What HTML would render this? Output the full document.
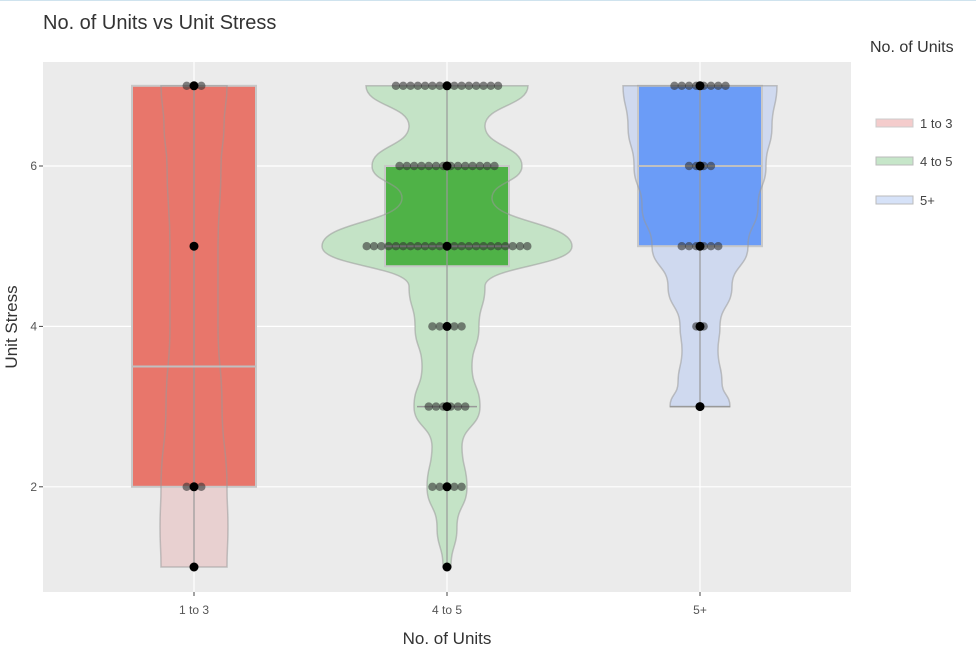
<!DOCTYPE html>
<html><head><meta charset="utf-8"><style>
html,body{margin:0;padding:0;background:#fff;}
svg{display:block;font-family:"Liberation Sans",sans-serif;}
</style></head><body>
<svg id="chart" width="976" height="650" viewBox="0 0 976 650">
<line x1="0" y1="0.5" x2="976" y2="0.5" stroke="#cfe3ee"/>
<text x="43" y="29" font-size="20" fill="#333">No. of Units vs Unit Stress</text>
<rect x="43" y="62" width="808" height="530" fill="#ebebeb"/>
<g id="grid"></g>
<g id="marks"></g>
<g id="axes"></g>
<text x="447" y="644" font-size="17" fill="#333" text-anchor="middle">No. of Units</text>
<text transform="translate(17,327) rotate(-90)" font-size="17" fill="#333" text-anchor="middle">Unit Stress</text>
<g>
<text x="870" y="52" font-size="16" fill="#333">No. of Units</text>
<g><rect x="876" y="119" width="37" height="8" fill="#f4cccc" stroke="#ccc"/><text x="920" y="128" font-size="13" fill="#444">1 to 3</text></g>
<g><rect x="876" y="157" width="37" height="8" fill="#c6e6c9" stroke="#bbb"/><text x="920" y="166" font-size="13" fill="#444">4 to 5</text></g>
<g><rect x="876" y="196" width="37" height="8" fill="#d6e2f8" stroke="#bbb"/><text x="920" y="205" font-size="13" fill="#444">5+</text></g>
</g>
</svg>
<script>
const categories=["1 to 3","4 to 5","5+"];
const yTicks=[2,4,6];
const q1=[2,4.75,5];
const medians=[3.5,5,6];
const q3=[7,6,7];
const whiskLo=[1,1,3];
const whiskHi=[7,7,7];
const levels=[1,2,3,4,5,6,7];
const dotCounts=[[1,3,0,0,1,0,3],[1,5,6,5,23,14,15],[0,0,1,2,6,4,8]];
const violinY=[[1,1.5,2,3,4,5,6,6.5,7],[1,1.5,2,2.5,3,3.5,4,4.5,5,5.6,6,6.5,7],[3,3.3,3.7,4,4.5,5,5.5,6,6.5,7]];
const violinW=[[33,34,33,28,24,24,27,30,33],[4,10,20,15,33,25,32,38,125,45,75,38,81],[30,22,18,20,32,48,58,66,72,77]];
const boxFill=["#e8766b","#4fb247","#6b9cf7"];
const vFill=["#e8d0d0","#c4e3c6","#cfd9ef"];
const ns="http://www.w3.org/2000/svg";
const X0=43,W=808,Y0=62,H=530;
function xs(i){return 194+i*253;}
function ys(v){return 567-(v-1)*80.2;}
function mk(tag,attrs,parent){const e=document.createElementNS(ns,tag);for(const k in attrs)e.setAttribute(k,attrs[k]);parent.appendChild(e);return e;}
const grid=document.getElementById('grid'),marks=document.getElementById('marks'),axes=document.getElementById('axes');
yTicks.forEach(t=>{
 const l=mk('line',{x1:X0,x2:X0+W,y1:ys(t),y2:ys(t),stroke:'#fff','stroke-width':1.2},grid);
 
 
 const tx=mk('text',{x:37,y:ys(t)+4,'font-size':12,fill:'#555','text-anchor':'end'},axes);
 tx.textContent=t;
 
 
 mk('line',{x1:39,x2:43,y1:ys(t),y2:ys(t),stroke:'#444'},axes);
});
categories.forEach((c,i)=>{
 const l=mk('line',{x1:xs(i),x2:xs(i),y1:Y0,y2:Y0+H,stroke:'#fff','stroke-width':1.2},grid);
 
 
 mk('line',{x1:xs(i),x2:xs(i),y1:592,y2:596,stroke:'#444'},axes);
 const tx=mk('text',{x:xs(i),y:614,'font-size':12,fill:'#555','text-anchor':'middle'},axes);
 tx.textContent=c;
 
 
});
function smooth(pts){let d='M'+pts[0][0]+','+pts[0][1];for(let k=1;k<pts.length;k++){const p=pts[k-1],q=pts[k];const my=(p[1]+q[1])/2;d+=' C'+p[0]+','+my+' '+q[0]+','+my+' '+q[0]+','+q[1];}return d;}
categories.forEach((c,i)=>{
 const g=mk('g',{},marks);
 
 
 const cx=xs(i);
 const R=violinY[i].map((v,k)=>[cx+violinW[i][k],ys(v)]);
 const L=violinY[i].map((v,k)=>[cx-violinW[i][k],ys(v)]).reverse();
 let d=smooth(R)+' L'+L[0][0]+','+L[0][1]+smooth(L).replace(/^M[^ ]+/,'')+' Z';
 const vp=mk('path',{d:d,fill:vFill[i],stroke:'none'},g);
 
 
 const b=mk('rect',{x:cx-62,y:ys(q3[i]),width:124,height:ys(q1[i])-ys(q3[i]),fill:boxFill[i],stroke:'#c8c8c8','stroke-width':2},g);
 
 
 const vo=mk('path',{d:d,fill:'none',stroke:'#999','stroke-opacity':0.55,'stroke-width':1.5},g);
 
 
 const wl=mk('line',{x1:cx,x2:cx,y1:ys(whiskLo[i]),y2:ys(whiskHi[i]),stroke:'#999','stroke-opacity':0.8,'stroke-width':1.5},g);
 
 
 const m=mk('line',{x1:cx-62,x2:cx+62,y1:ys(medians[i]),y2:ys(medians[i]),stroke:'#c0c0c0','stroke-width':2},g);
 
 
 if(whiskLo[i]>1||i==1){const cap=mk('line',{x1:cx-30,x2:cx+30,y1:ys(whiskLo[i]===1?3:whiskLo[i]),y2:ys(whiskLo[i]===1?3:whiskLo[i]),stroke:'#999','stroke-width':1.5},g);}
 levels.forEach((lv,k)=>{
  const n=dotCounts[i][k];
  for(let j=0;j<n;j++){
   const dx=(j-(n-1)/2)*7.3;
   const dt=mk('circle',{cx:cx+dx,cy:ys(lv),r:4.2,fill:'#333','fill-opacity':0.6},g);
   
   
  }
  if(n>0){const bd=mk('circle',{cx:cx,cy:ys(lv),r:4.5,fill:'#000'},g);
   
   }
 });
});
</script>
</body></html>
